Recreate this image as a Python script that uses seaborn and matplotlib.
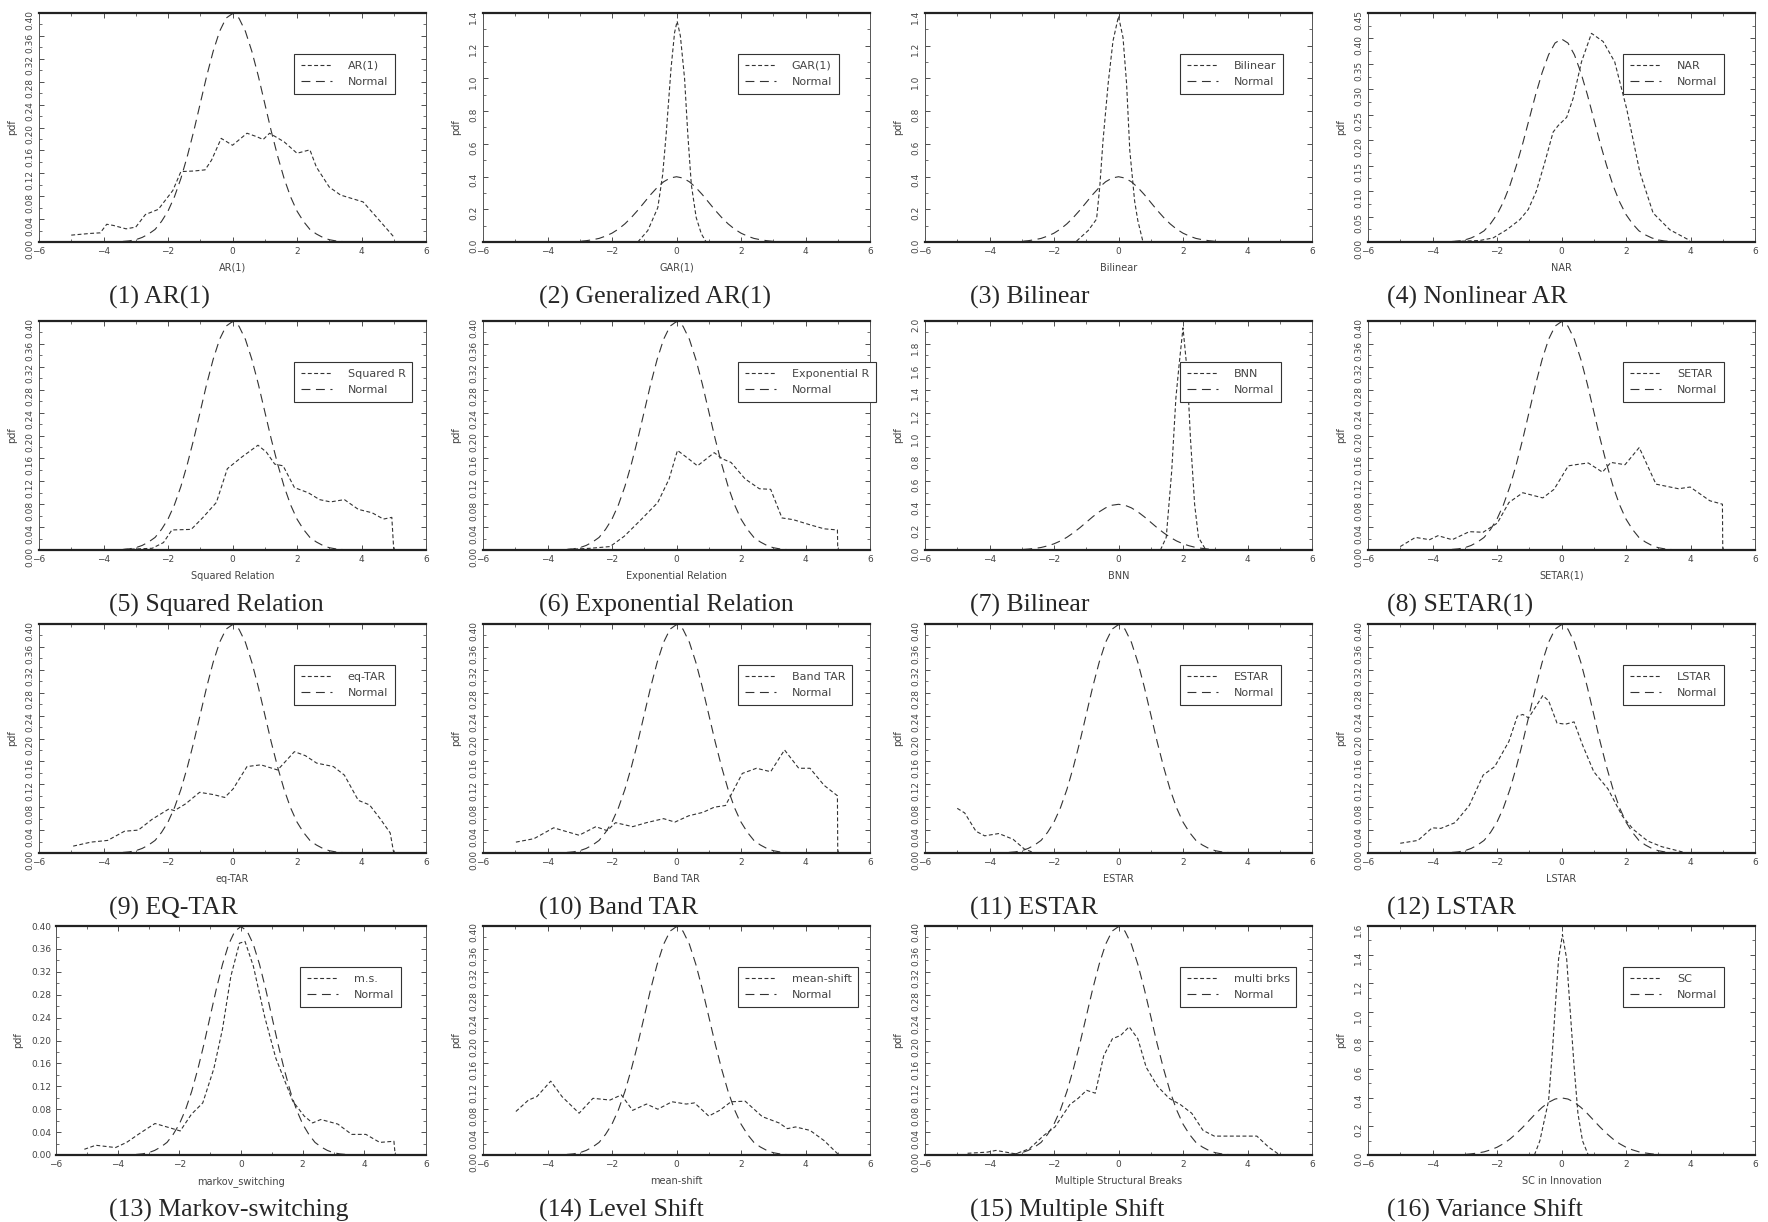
import matplotlib
matplotlib.use('Agg')
import matplotlib.pyplot as plt
from matplotlib.ticker import MultipleLocator, FormatStrFormatter
import seaborn as sns

# --- data ---
normal_x = [-3.4, -3.2, -3.0, -2.8, -2.6, -2.4, -2.2, -2.0, -1.8, -1.6, -1.4, -1.2,
            -1.0, -0.8, -0.6, -0.4, -0.2, 0.0, 0.2, 0.4, 0.6, 0.8, 1.0, 1.2, 1.4,
            1.6, 1.8, 2.0, 2.2, 2.4, 2.6, 2.8, 3.0, 3.2, 3.4]
normal_y = [0.001, 0.002, 0.004, 0.008, 0.014, 0.022, 0.036, 0.054, 0.079, 0.111,
            0.150, 0.194, 0.242, 0.290, 0.333, 0.368, 0.391, 0.399, 0.391, 0.368,
            0.333, 0.290, 0.242, 0.194, 0.150, 0.111, 0.079, 0.054, 0.036, 0.022,
            0.014, 0.008, 0.004, 0.002, 0.001]

ar1_x = [-5.0, -4.4, -4.1, -3.9, -3.7, -3.3, -3.0, -2.7, -2.3, -1.85, -1.6, -1.2, -0.85,
         -0.65, -0.35, 0.0, 0.45, 0.75, 0.95, 1.15, 1.6, 2.0, 2.4, 2.6, 3.0, 3.35, 4.05, 4.55, 5.0]
ar1_y = [0.012, 0.015, 0.016, 0.031, 0.029, 0.023, 0.026, 0.048, 0.057, 0.090, 0.123, 0.124,
         0.126, 0.143, 0.181, 0.169, 0.190, 0.184, 0.179, 0.190, 0.175, 0.155, 0.161, 0.131,
         0.096, 0.082, 0.070, 0.038, 0.009]

gar_x = [-1.2, -0.89, -0.58, -0.43, -0.32, -0.17, -0.06, 0.02, 0.12, 0.25, 0.35, 0.46, 0.61, 0.77, 0.92]
gar_y = [0.0, 0.07, 0.21, 0.41, 0.66, 1.06, 1.28, 1.35, 1.26, 1.00, 0.66, 0.35, 0.15, 0.05, 0.0]

bil_x = [-1.3, -0.94, -0.68, -0.58, -0.48, -0.32, -0.17, 0.0, 0.14, 0.25, 0.35, 0.5, 0.6, 0.76]
bil_y = [0.006, 0.07, 0.14, 0.34, 0.62, 0.97, 1.23, 1.38, 1.25, 0.97, 0.56, 0.25, 0.13, 0.0]

nar_x = [-3.3, -2.53, -2.12, -1.7, -1.29, -1.03, -0.78, -0.52, -0.26, -0.1, 0.16, 0.36, 0.62,
         0.93, 1.29, 1.65, 2.02, 2.43, 2.84, 3.36, 3.98]
nar_y = [0.001, 0.003, 0.008, 0.024, 0.044, 0.064, 0.100, 0.156, 0.216, 0.229, 0.245, 0.282,
         0.354, 0.410, 0.394, 0.354, 0.262, 0.137, 0.057, 0.024, 0.003]

sqr_x = [-3.35, -2.49, -2.14, -1.88, -1.28, -0.93, -0.5, -0.16, 0.28, 0.79, 1.05, 1.31, 1.57,
         1.92, 2.35, 2.7, 3.04, 3.47, 3.9, 4.33, 4.68, 4.94, 5.0]
sqr_y = [0.001, 0.003, 0.013, 0.035, 0.036, 0.056, 0.083, 0.142, 0.162, 0.183, 0.171, 0.150,
         0.147, 0.109, 0.100, 0.088, 0.084, 0.088, 0.071, 0.065, 0.054, 0.057, 0.0]

exp_x = [-3.37, -2.67, -2.06, -1.62, -1.1, -0.58, -0.23, 0.03, 0.38, 0.65, 1.17, 1.43, 1.69,
         2.13, 2.57, 2.92, 3.27, 3.62, 4.14, 4.58, 4.99, 5.0]
exp_y = [0.001, 0.003, 0.006, 0.024, 0.053, 0.083, 0.124, 0.174, 0.159, 0.147, 0.170, 0.159,
         0.153, 0.124, 0.107, 0.106, 0.056, 0.053, 0.044, 0.037, 0.035, 0.0]

bnn_x = [1.3, 1.48, 1.65, 1.78, 1.88, 2.0, 2.13, 2.23, 2.36, 2.48, 2.71]
bnn_y = [0.0, 0.11, 0.69, 1.33, 1.62, 1.94, 1.56, 0.98, 0.40, 0.11, 0.0]

setar_x = [-5.0, -4.53, -4.09, -3.83, -3.39, -2.86, -2.43, -1.99, -1.63, -1.2, -0.58, -0.23,
           0.21, 0.56, 0.83, 1.27, 1.53, 1.97, 2.41, 2.93, 3.63, 3.99, 4.6, 4.99, 5.0]
setar_y = [0.006, 0.022, 0.018, 0.025, 0.018, 0.032, 0.031, 0.047, 0.083, 0.100, 0.091, 0.106,
           0.147, 0.150, 0.152, 0.136, 0.153, 0.149, 0.179, 0.115, 0.107, 0.110, 0.086, 0.080, 0.0]

eqtar_x = [-4.94, -4.39, -3.87, -3.35, -2.92, -2.49, -1.97, -1.8, -1.45, -1.02, -0.59, -0.24,
           0.02, 0.45, 0.88, 1.4, 1.92, 2.26, 2.61, 3.13, 3.47, 3.9, 4.25, 4.59, 4.89, 5.0]
eqtar_y = [0.012, 0.019, 0.022, 0.038, 0.040, 0.059, 0.077, 0.074, 0.086, 0.106, 0.102, 0.097,
           0.112, 0.151, 0.154, 0.145, 0.177, 0.170, 0.157, 0.151, 0.136, 0.092, 0.084, 0.059,
           0.035, 0.0]

band_x = [-4.98, -4.42, -3.81, -3.02, -2.5, -2.15, -1.89, -1.36, -0.93, -0.4, -0.05, 0.38,
          0.82, 1.17, 1.52, 2.04, 2.48, 2.92, 3.35, 3.79, 4.14, 4.58, 4.99, 5.0]
band_y = [0.019, 0.025, 0.044, 0.031, 0.046, 0.039, 0.053, 0.046, 0.053, 0.060, 0.054, 0.065,
          0.071, 0.080, 0.083, 0.139, 0.148, 0.142, 0.180, 0.148, 0.148, 0.118, 0.100, 0.0]

estar_x = [-5.0, -4.77, -4.42, -4.15, -3.71, -3.27, -2.92, -2.6]
estar_y = [0.078, 0.070, 0.038, 0.030, 0.034, 0.024, 0.007, 0.0]

lstar_x = [-5.0, -4.45, -4.01, -3.74, -3.3, -2.86, -2.43, -2.07, -1.63, -1.37, -1.2, -1.02,
           -0.58, -0.4, -0.14, 0.12, 0.39, 0.65, 1.0, 1.44, 1.88, 2.23, 2.67, 3.11, 3.46, 3.81]
lstar_y = [0.017, 0.022, 0.044, 0.043, 0.053, 0.083, 0.136, 0.151, 0.195, 0.239, 0.242, 0.236,
           0.275, 0.266, 0.227, 0.225, 0.229, 0.189, 0.142, 0.112, 0.065, 0.041, 0.021, 0.011,
           0.006, 0.001]

ms_x = [-5.08, -4.71, -4.07, -3.71, -3.25, -2.79, -2.34, -1.97, -1.61, -1.24, -0.88, -0.6,
        -0.33, -0.05, 0.13, 0.4, 0.77, 1.13, 1.68, 2.05, 2.32, 2.59, 3.14, 3.59, 4.05, 4.5,
        4.96, 5.0]
ms_y = [0.010, 0.017, 0.013, 0.022, 0.039, 0.055, 0.048, 0.042, 0.071, 0.091, 0.151, 0.220,
        0.312, 0.370, 0.373, 0.330, 0.241, 0.169, 0.094, 0.068, 0.056, 0.062, 0.054, 0.036,
        0.036, 0.022, 0.024, 0.0]

mshift_x = [-4.98, -4.59, -4.33, -3.9, -3.55, -3.02, -2.59, -2.06, -1.71, -1.36, -0.93, -0.58,
            -0.14, 0.3, 0.56, 1.0, 1.34, 1.69, 2.13, 2.66, 3.18, 3.44, 3.69, 4.14, 4.58, 5.0]
mshift_y = [0.076, 0.096, 0.102, 0.129, 0.102, 0.073, 0.099, 0.096, 0.105, 0.078, 0.089, 0.080,
            0.093, 0.089, 0.091, 0.068, 0.078, 0.093, 0.094, 0.067, 0.056, 0.046, 0.049, 0.043,
            0.025, 0.002]

brks_x = [-4.68, -4.07, -3.8, -3.19, -2.76, -2.32, -1.97, -1.51, -1.25, -0.99, -0.72, -0.46,
          -0.19, 0.07, 0.33, 0.6, 0.86, 1.21, 1.57, 1.92, 2.27, 2.62, 2.97, 3.5, 4.29, 4.65, 5.0]
brks_y = [0.003, 0.005, 0.008, 0.002, 0.011, 0.034, 0.049, 0.088, 0.099, 0.113, 0.108, 0.173,
          0.203, 0.209, 0.224, 0.203, 0.153, 0.120, 0.099, 0.088, 0.073, 0.043, 0.033, 0.033,
          0.033, 0.014, 0.0]

sc_x = [-0.84, -0.67, -0.4, -0.28, -0.18, -0.09, 0.03, 0.16, 0.26, 0.39, 0.51, 0.65, 0.83]
sc_y = [0.0, 0.10, 0.38, 0.73, 1.08, 1.37, 1.54, 1.37, 1.04, 0.62, 0.29, 0.10, 0.0]

sample_x = [ar1_x, gar_x, bil_x, nar_x, sqr_x, exp_x, bnn_x, setar_x,
            eqtar_x, band_x, estar_x, lstar_x, ms_x, mshift_x, brks_x, sc_x]
sample_y = [ar1_y, gar_y, bil_y, nar_y, sqr_y, exp_y, bnn_y, setar_y,
            eqtar_y, band_y, estar_y, lstar_y, ms_y, mshift_y, brks_y, sc_y]

legend_labels = ['AR(1)', 'GAR(1)', 'Bilinear', 'NAR', 'Squared R', 'Exponential R', 'BNN',
                 'SETAR', 'eq-TAR', 'Band TAR', 'ESTAR', 'LSTAR', 'm.s.', 'mean-shift',
                 'multi brks', 'SC']
x_labels = ['AR(1)', 'GAR(1)', 'Bilinear', 'NAR', 'Squared Relation', 'Exponential Relation',
            'BNN', 'SETAR(1)', 'eq-TAR', 'Band TAR', 'ESTAR', 'LSTAR', 'markov_switching',
            'mean-shift', 'Multiple Structural Breaks', 'SC in Innovation']
captions = ['(1) AR(1)', '(2) Generalized AR(1)', '(3) Bilinear', '(4) Nonlinear AR',
            '(5) Squared Relation', '(6) Exponential Relation', '(7) Bilinear', '(8) SETAR(1)',
            '(9) EQ-TAR', '(10) Band TAR', '(11) ESTAR', '(12) LSTAR',
            '(13) Markov-switching', '(14) Level Shift', '(15) Multiple Shift',
            '(16) Variance Shift']
y_max = [0.40, 1.4, 1.4, 0.45, 0.40, 0.40, 2.0, 0.40,
         0.40, 0.40, 0.40, 0.40, 0.40, 0.40, 0.40, 1.6]
y_step = [0.04, 0.2, 0.2, 0.05, 0.04, 0.04, 0.2, 0.04,
          0.04, 0.04, 0.04, 0.04, 0.04, 0.04, 0.04, 0.2]

# --- layout (pixels) ---
W, H = 1768, 1222
COL_LEFT = [39, 483, 925, 1368]
ROW_TOP = [13, 321, 624, 926]
AX_W, AX_H = 387, 229
CAP_X = [109, 539, 970, 1387]

sns.set_style('ticks')
plt.rcParams['font.family'] = ['DejaVu Sans']
ink = '#333333'

fig = plt.figure(figsize=(W / 100, H / 100), dpi=100)

for i in range(16):
    r, c = divmod(i, 4)
    left = COL_LEFT[c]
    width = AX_W
    if i == 12:  # horizontal y labels need more room
        left, width = 56, 370
    top = ROW_TOP[r]
    ax = fig.add_axes([left / W, 1 - (top + AX_H) / H, width / W, AX_H / H])

    sns.lineplot(x=sample_x[i], y=sample_y[i], ax=ax, sort=False, estimator=None,
                 color=ink, linewidth=0.8, linestyle=(0, (3.5, 2.2)),
                 label=legend_labels[i])
    sns.lineplot(x=normal_x, y=normal_y, ax=ax, sort=False, estimator=None,
                 color=ink, linewidth=0.8, linestyle=(0, (8, 5)), label='Normal')

    ax.set_xlim(-6, 6)
    ax.set_ylim(0, y_max[i])
    ax.xaxis.set_major_locator(MultipleLocator(2))
    ax.xaxis.set_minor_locator(MultipleLocator(1))
    ax.yaxis.set_major_locator(MultipleLocator(y_step[i]))
    ax.yaxis.set_minor_locator(MultipleLocator(y_step[i] / 2))
    ax.yaxis.set_major_formatter(FormatStrFormatter('%.2f' if y_step[i] < 0.1 else '%.1f'))
    ax.tick_params(which='both', direction='in', top=True, right=True,
                   labelsize=6.5, colors=ink, labelcolor='#444444')
    ax.tick_params(which='major', length=3.5, width=0.6)
    ax.tick_params(which='minor', length=2, width=0.5)
    if i != 12:
        ax.tick_params(axis='y', labelrotation=90)

    for side in ['left', 'right']:
        ax.spines[side].set_linewidth(0.7)
        ax.spines[side].set_color('#555555')
    for side in ['top', 'bottom']:
        ax.spines[side].set_linewidth(1.6)
        ax.spines[side].set_color('#222222')

    ax.set_xlabel(x_labels[i], fontsize=7, color='#444444', labelpad=5)
    ax.set_ylabel('pdf', fontsize=7, color='#444444', labelpad=6)

    leg = ax.legend(loc='upper left', bbox_to_anchor=(0.66, 0.82), fontsize=8,
                    frameon=True, fancybox=False, framealpha=1, edgecolor='#333333',
                    handlelength=2.8, handletextpad=1.4, borderpad=0.6,
                    labelspacing=0.55, borderaxespad=0)
    leg.get_frame().set_linewidth(0.8)
    for t in leg.get_texts():
        t.set_color('#444444')

    fig.text(CAP_X[c] / W, 1 - (top + AX_H + 55) / H, captions[i],
             ha='left', va='center', fontsize=18.5, family='Liberation Serif')

fig.savefig('out.png', dpi=100)
plt.close(fig)
